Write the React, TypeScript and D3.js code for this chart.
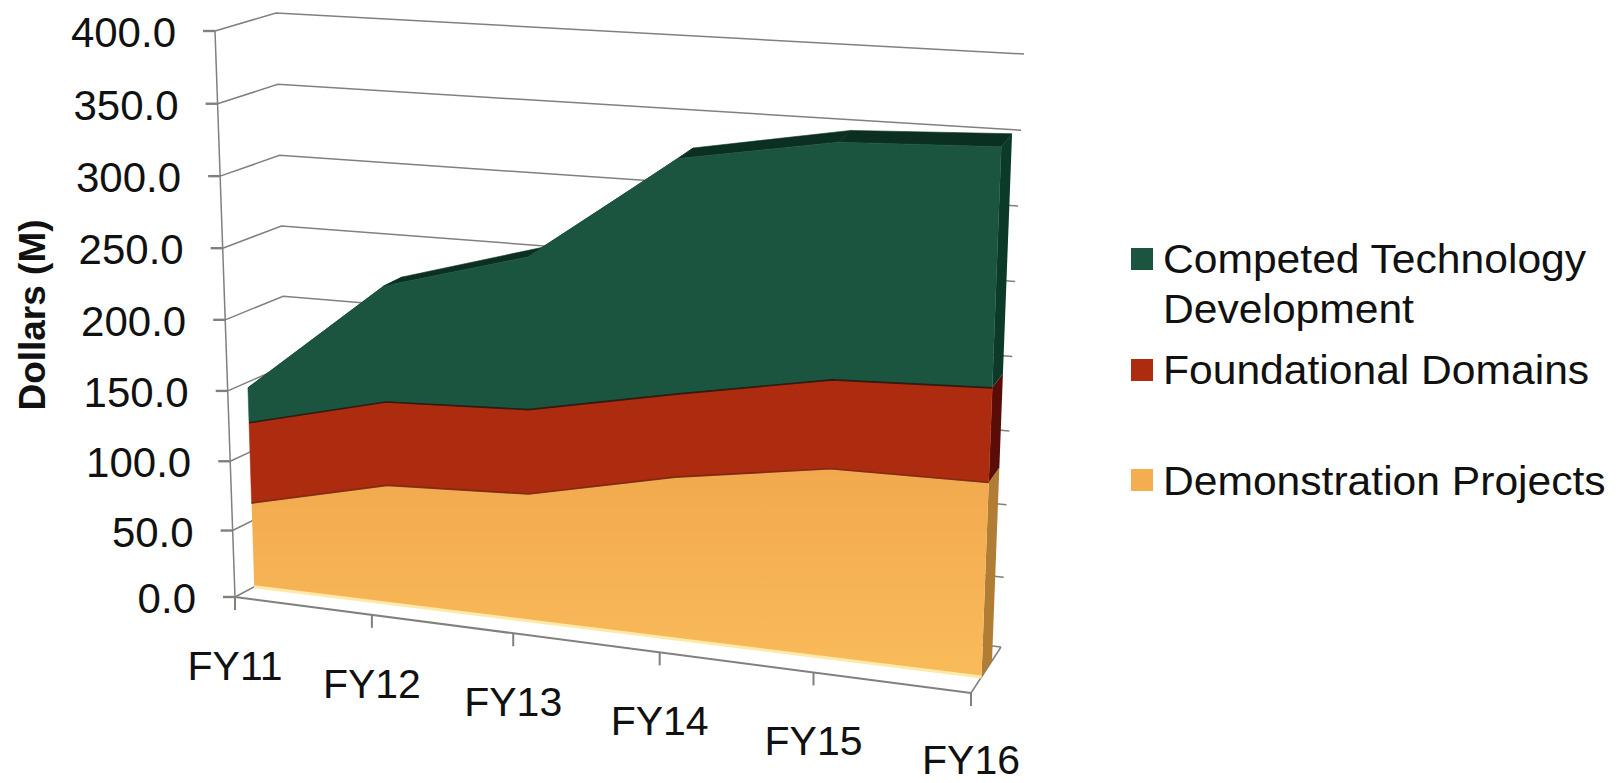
import React, { useEffect, useRef } from 'react';
import * as d3 from 'd3';

const categories = ['FY11', 'FY12', 'FY13', 'FY14', 'FY15', 'FY16'];
const seriesKeys = ['Demonstration Projects', 'Foundational Domains', 'Competed Technology Development'];
const demonstration = [63, 87, 92, 115, 132, 134];
const foundational = [58, 59, 59, 57, 60, 63];
const competed = [25, 81, 105, 159, 158, 158];
const valueTicks = [0, 50, 100, 150, 200, 250, 300, 350, 400];
const faceColors = ['#f4ae50', '#ad2c10', '#1b5540'];
const sideColors = ['#b17c33', '#5a0c08', '#0b3a28'];
const seamColors = ['', '#6e2410', '#2a0d06'];
const topColor = '#0b3022';

// box corners on the page, [depth][value]
const frontLeft = { x0: 235, y0: 597, x1: 215, y1: 31 };
const backLeft = { x0: 290, y0: 568, x1: 276, y1: 13 };
const frontRight = { x0: 971, y0: 693, x1: 993, y1: 90 };
const backRight = { x0: 1001, y0: 647, x1: 1024, y1: 54 };
const areaFront = 0.35;
const areaBack = 0.7;
// where each category falls along the floor, foreshortened
const categorySpan = [0, 0.186, 0.378, 0.577, 0.786, 1];

const App: React.FC = () => {
  const svgRef = useRef<SVGSVGElement>(null);

  useEffect(() => {
    if (!svgRef.current) return;
    const svg = d3.select(svgRef.current);
    svg.selectAll('*').remove();

    // slight perspective along the category axis and the value axis
    const tScale = d3.scaleLinear().domain(d3.range(categories.length)).range(categorySpan);
    const vScale = d3.scalePow().exponent(1.03).domain([0, 400]).range([0, 1]);

    const project = (i: number, v: number, z: number): [number, number] => {
      const t = tScale(i);
      const h = vScale(v);
      const lerp = (a: number, b: number, k: number) => a + (b - a) * k;
      const at = (c: typeof frontLeft): [number, number] => [lerp(c.x0, c.x1, h), lerp(c.y0, c.y1, h)];
      const fl = at(frontLeft), bl = at(backLeft), fr = at(frontRight), br = at(backRight);
      const l = [lerp(fl[0], bl[0], z), lerp(fl[1], bl[1], z)];
      const r = [lerp(fr[0], br[0], z), lerp(fr[1], br[1], z)];
      return [lerp(l[0], r[0], t), lerp(l[1], r[1], t)];
    };
    const line = d3.line();
    const last = categories.length - 1;

    const defs = svg.append('defs');
    const grad = defs.append('linearGradient').attr('id', 'demoFace')
      .attr('x1', 0).attr('y1', 0).attr('x2', 0).attr('y2', 1);
    grad.append('stop').attr('offset', '0%').attr('stop-color', '#f2a94e');
    grad.append('stop').attr('offset', '100%').attr('stop-color', '#f9bb5a');

    // walls
    const axisColor = '#80807c';
    const grid = svg.append('g').attr('fill', 'none').attr('stroke', axisColor).attr('stroke-width', 1.5);
    valueTicks.forEach(v => {
      grid.append('path').attr('d', line([project(0, v, 0), project(0, v, 1), project(last, v, 1)]));
      const p = project(0, v, 0);
      grid.append('path').attr('d', line([p, [p[0] - 12, p[1]]])).attr('stroke-width', 2.4);
    });
    grid.append('path').attr('d', line([project(0, 0, 0), project(0, 400, 0)]));
    grid.append('path').attr('d', line([project(last, 0, 0), project(last, 0, 1)]));
    grid.append('path').attr('d', line([project(0, 0, 0), project(last, 0, 0)])).attr('stroke-width', 2);
    categories.forEach((_, i) => {
      const p = project(i, 0, 0);
      grid.append('path').attr('d', line([p, [p[0], p[1] + 13]])).attr('stroke-width', 2);
    });

    // stacked layers
    const rows = categories.map((_, i) => ({
      [seriesKeys[0]]: demonstration[i],
      [seriesKeys[1]]: foundational[i],
      [seriesKeys[2]]: competed[i],
    }));
    const layers = d3.stack<any>().keys(seriesKeys)(rows);

    const marks = svg.append('g');
    const topLayer = layers[layers.length - 1];
    categories.slice(1).forEach((_, k) => {
      const a = topLayer[k][1], b = topLayer[k + 1][1];
      marks.append('path')
        .attr('d', line([project(k, a, areaFront), project(k, a, areaBack), project(k + 1, b, areaBack), project(k + 1, b, areaFront)]) + 'Z')
        .attr('fill', topColor).attr('stroke', topColor).attr('stroke-width', 0.6);
    });
    layers.forEach((layer, s) => {
      const [lo, hi] = layer[last];
      marks.append('path')
        .attr('d', line([project(last, lo, areaFront), project(last, lo, areaBack), project(last, hi, areaBack), project(last, hi, areaFront)]) + 'Z')
        .attr('fill', sideColors[s]);
    });
    layers.forEach((layer, s) => {
      const upper = layer.map((d, i) => project(i, d[1], areaFront));
      const lower = layer.map((d, i) => project(i, d[0], areaFront)).reverse();
      marks.append('path')
        .attr('d', line([...upper, ...lower]) + 'Z')
        .attr('fill', s === 0 ? 'url(#demoFace)' : faceColors[s])
        .attr('stroke', s === 0 ? 'none' : faceColors[s]).attr('stroke-width', 0.5);
    });
    // pale fringe and dark seams of the front face
    marks.append('path')
      .attr('d', line([project(0, 0, areaFront), project(last, 0, areaFront)]))
      .attr('stroke', '#fde9a8').attr('stroke-width', 3).attr('fill', 'none');
    layers.slice(1).forEach((layer, s) => {
      marks.append('path')
        .attr('d', line(layer.map((d, i) => project(i, d[0], areaFront))))
        .attr('stroke', seamColors[s + 1]).attr('stroke-opacity', 0.8).attr('stroke-width', 1.6).attr('fill', 'none');
    });

    // text
    const font = '"Liberation Sans", Arial, sans-serif';
    const labels = svg.append('g').attr('font-family', font).attr('fill', '#111');
    valueTicks.forEach(v => {
      const p = project(0, v, 0);
      labels.append('text').attr('x', p[0] - 39).attr('y', p[1] + 16)
        .attr('text-anchor', 'end').attr('font-size', 42).text(d3.format('.1f')(v));
    });
    categories.forEach((c, i) => {
      const p = project(i, 0, 0);
      // last label would run off the bottom of the page otherwise
      labels.append('text').attr('x', p[0]).attr('y', Math.min(p[1] + 83, 774))
        .attr('text-anchor', 'middle').attr('font-size', 41).text(c);
    });
    labels.append('text')
      .attr('transform', 'translate(45,315) rotate(-90)')
      .attr('text-anchor', 'middle').attr('font-size', 37).attr('font-weight', 'bold')
      .text('Dollars (M)');

    // legend
    const legendRows = [
      { s: 2, lines: ['Competed Technology', 'Development'], y: 248, base: 273 },
      { s: 1, lines: ['Foundational Domains'], y: 359, base: 384 },
      { s: 0, lines: ['Demonstration Projects'], y: 469, base: 495 },
    ];
    legendRows.forEach(r => {
      labels.append('rect').attr('x', 1131).attr('y', r.y).attr('width', 22).attr('height', 22)
        .attr('fill', faceColors[r.s]);
      r.lines.forEach((t, k) => {
        labels.append('text')
          .attr('transform', `translate(1163,${r.base + k * 50}) scale(1.065,1)`)
          .attr('font-size', 40).text(t);
      });
    });
  }, []);

  return <svg ref={svgRef} width={1617} height={783} style={{ position: 'absolute', left: 0, top: 0, background: '#fff' }} />;
};

export default App;
